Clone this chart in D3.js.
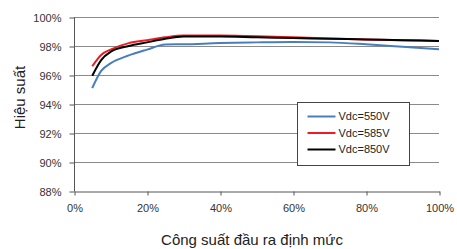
<!DOCTYPE html>
<html><head><meta charset="utf-8">
<script src="https://cdn.jsdelivr.net/npm/d3@7"></script>
<style>body{margin:0;background:#fff}svg{display:block}</style>
</head><body>
<svg id="c" width="457" height="249"></svg>
<script>
const loads = [5, 7.5, 10, 15, 20, 25, 30, 40, 50, 60, 70, 80, 90, 100];
const eff550 = [95.1, 96.3, 96.8, 97.35, 97.75, 98.1, 98.12, 98.2, 98.25, 98.28, 98.25, 98.12, 97.95, 97.78];
const eff585 = [96.6, 97.4, 97.75, 98.2, 98.4, 98.6, 98.72, 98.72, 98.68, 98.6, 98.52, 98.45, 98.4, 98.35];
const eff850 = [95.95, 97.05, 97.6, 98.0, 98.25, 98.5, 98.65, 98.65, 98.6, 98.55, 98.5, 98.45, 98.4, 98.35];
const seriesNames = ["Vdc=550V", "Vdc=585V", "Vdc=850V"];
const seriesColors = ["#4a7ebb", "#ed1c24", "#000000"];
const xTicks = [0, 20, 40, 60, 80, 100];
const yTicks = [88, 90, 92, 94, 96, 98, 100];

const svg = d3.select("#c");
const font = "'Liberation Sans', Arial, sans-serif";
const x = d3.scaleLinear().domain([0, 100]).range([74, 439]);
const y = d3.scaleLinear().domain([88, 100]).range([191, 17]);

// gridlines
svg.append("g").selectAll("line").data(yTicks.filter(d => d > 88)).join("line")
  .attr("x1", x(0)).attr("x2", x(100))
  .attr("y1", d => Math.round(y(d)) + 0.5).attr("y2", d => Math.round(y(d)) + 0.5)
  .attr("stroke", "#8a8a8a").attr("stroke-width", 1);

// y axis
const ya = svg.append("g").attr("transform", `translate(${x(0) + 0.5},0.5)`)
  .call(d3.axisLeft(y).tickValues(yTicks).tickFormat(d => d + "%").tickSize(5).tickPadding(8));
// x axis
const xa = svg.append("g").attr("transform", `translate(0.5,${Math.round(y(88)) + 0.5})`)
  .call(d3.axisBottom(x).tickValues(xTicks).tickFormat(d => d + "%").tickSize(4).tickSizeOuter(0).tickPadding(9));
[ya, xa].forEach(a => {
  a.selectAll("path,line").attr("stroke", "#555");
  a.selectAll("text").attr("font-family", font).attr("font-size", 11).attr("fill", "#333");
});
ya.select(".domain").attr("d", `M0,${y(88)}V${y(100)}`);

// lines
const series = [eff550, eff585, eff850];
const line = d3.line().x((d, i) => x(loads[i])).y(d => y(d)).curve(d3.curveMonotoneX);
series.forEach((s, k) => {
  svg.append("path").datum(s).attr("d", line)
    .attr("fill", "none").attr("stroke", seriesColors[k]).attr("stroke-width", 2);
});

// legend
const lg = svg.append("g").attr("transform", "translate(297.5,102.5)");
lg.append("rect").attr("width", 112).attr("height", 63).attr("fill", "#fff").attr("stroke", "#444").attr("stroke-width", 1);
seriesNames.forEach((n, k) => {
  const yy = 14 + k * 16.5;
  lg.append("line").attr("x1", 10).attr("x2", 38).attr("y1", yy).attr("y2", yy)
    .attr("stroke", seriesColors[k]).attr("stroke-width", 2);
  lg.append("text").attr("x", 41).attr("y", yy).attr("dy", "0.35em")
    .attr("font-family", font).attr("font-size", 11).attr("fill", "#222").text(n);
});

// axis titles
svg.append("text").attr("x", 252).attr("y", 245)
  .attr("text-anchor", "middle").attr("font-family", font).attr("font-size", 15).attr("fill", "#222")
  .text("Công suất đầu ra định mức");
svg.append("text").attr("transform", `translate(25,97.5) rotate(-90)`)
  .attr("text-anchor", "middle").attr("font-family", font).attr("font-size", 15).attr("fill", "#222")
  .text("Hiệu suất");
</script>
</body></html>
